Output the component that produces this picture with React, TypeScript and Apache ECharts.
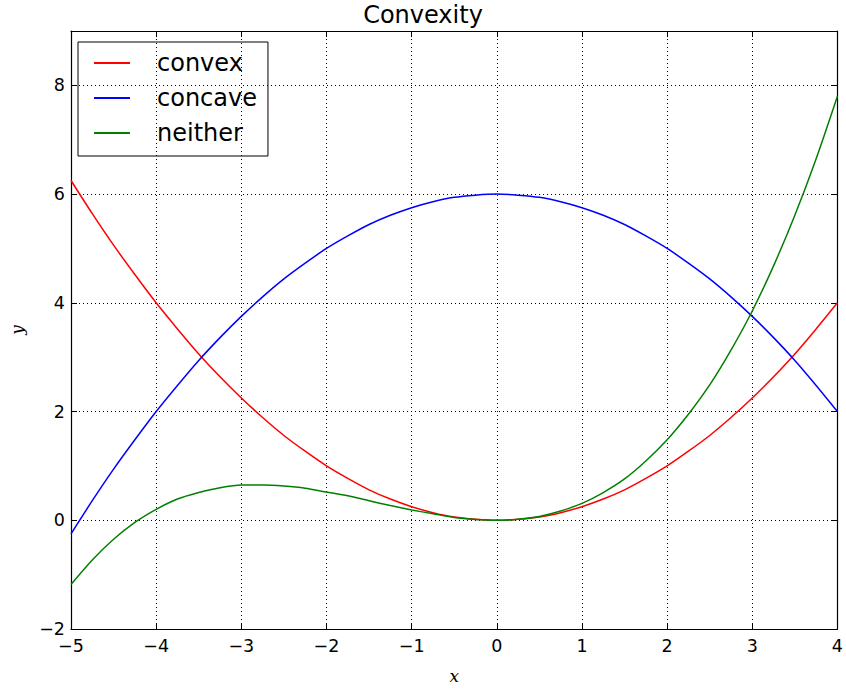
import React, { useEffect, useRef } from "react";
import * as echarts from "echarts";

const xs = [-5, -4.75, -4.5, -4.25, -4, -3.75, -3.5, -3.25, -3, -2.75, -2.5, -2.25, -2, -1.75, -1.5, -1.25, -1, -0.75, -0.5, -0.25, 0, 0.25, 0.5, 0.75, 1, 1.25, 1.5, 1.75, 2, 2.25, 2.5, 2.75, 3, 3.25, 3.5, 3.75, 4];
const convex = [6.25, 5.64, 5.06, 4.52, 4.0, 3.52, 3.06, 2.64, 2.25, 1.89, 1.56, 1.27, 1.0, 0.77, 0.56, 0.39, 0.25, 0.14, 0.06, 0.02, 0, 0.02, 0.06, 0.14, 0.25, 0.39, 0.56, 0.77, 1.0, 1.27, 1.56, 1.89, 2.25, 2.64, 3.06, 3.52, 4.0];
const concave = [-0.25, 0.36, 0.94, 1.48, 2.0, 2.48, 2.94, 3.36, 3.75, 4.11, 4.44, 4.73, 5.0, 5.23, 5.44, 5.61, 5.75, 5.86, 5.94, 5.98, 6.0, 5.98, 5.94, 5.86, 5.75, 5.61, 5.44, 5.23, 5.0, 4.73, 4.44, 4.11, 3.75, 3.36, 2.94, 2.48, 2.0];
const neither = [-1.18, -0.73, -0.35, -0.04, 0.2, 0.39, 0.51, 0.6, 0.65, 0.65, 0.63, 0.59, 0.52, 0.45, 0.36, 0.27, 0.19, 0.12, 0.05, 0.015, 0, 0.017, 0.07, 0.17, 0.31, 0.51, 0.76, 1.09, 1.48, 1.95, 2.49, 3.13, 3.85, 4.68, 5.61, 6.65, 7.8];
const seriesNames = ["convex", "concave", "neither"];
const seriesColors = ["#ff0000", "#0000ff", "#008000"];
const seriesValues = [convex, concave, neither];

const FONT = "DejaVu Sans";

export default function App() {
  const ref = useRef<HTMLDivElement>(null);
  useEffect(() => {
    if (!ref.current) return;
    const chart = echarts.init(ref.current, undefined, { renderer: "svg" });
    const minusFmt = (v: number) => (v < 0 ? "\u2212" + Math.abs(v) : String(v));
    const tickCommon = { show: true, inside: true, length: 6, lineStyle: { color: "#000", width: 1 } };
    const axisLineCommon = { show: true, onZero: false, lineStyle: { color: "#000", width: 1.2 } };
    chart.setOption({
      animation: false,
      backgroundColor: "#fff",
      title: {
        text: "Convexity",
        left: "center",
        top: -2,
        textStyle: { fontFamily: FONT, fontSize: 24, fontWeight: "normal", color: "#000" },
      },
      legend: {
        orient: "vertical",
        left: 78,
        top: 42,
        data: seriesNames,
        icon: "rect",
        itemWidth: 36,
        itemHeight: 2,
        itemGap: 11,
        padding: [9, 11, 11, 16],
        borderColor: "#000",
        borderWidth: 1,
        borderRadius: 0,
        textStyle: { fontFamily: FONT, fontSize: 24, color: "#000", padding: [0, 0, 0, 22] },
      },
      grid: { left: 67, right: 7, top: 31, bottom: 56, containLabel: false },
      xAxis: [
        {
          type: "value",
          min: -5,
          max: 4,
          interval: 1,
          position: "bottom",
          name: "x",
          nameLocation: "middle",
          nameGap: 38,
          nameTextStyle: { fontFamily: "DejaVu Serif", fontStyle: "italic", fontSize: 17, color: "#000" },
          axisLine: axisLineCommon,
          axisTick: tickCommon,
          axisLabel: { fontFamily: FONT, fontSize: 17.5, color: "#000", margin: 8, formatter: minusFmt },
          splitLine: { show: true, lineStyle: { color: "#000", width: 1, type: [1, 3] } },
        },
        {
          type: "value",
          min: -5,
          max: 4,
          interval: 1,
          position: "top",
          axisLine: axisLineCommon,
          axisTick: tickCommon,
          axisLabel: { show: false },
          splitLine: { show: false },
        },
      ],
      yAxis: [
        {
          type: "value",
          min: -2,
          max: 9,
          interval: 2,
          position: "left",
          name: "y",
          nameLocation: "middle",
          nameGap: 46,
          nameTextStyle: { fontFamily: "DejaVu Serif", fontStyle: "italic", fontSize: 17, color: "#000" },
          axisLine: axisLineCommon,
          axisTick: tickCommon,
          axisLabel: { fontFamily: FONT, fontSize: 17.5, color: "#000", margin: 6, formatter: minusFmt, showMaxLabel: false },
          splitLine: { show: true, lineStyle: { color: "#000", width: 1, type: [1, 3] } },
        },
        {
          type: "value",
          min: -2,
          max: 9,
          interval: 2,
          position: "right",
          axisLine: axisLineCommon,
          axisTick: tickCommon,
          axisLabel: { show: false },
          splitLine: { show: false },
        },
      ],
      series: seriesNames.map((name, i) => ({
        name,
        type: "line",
        xAxisIndex: 0,
        yAxisIndex: 0,
        data: xs.map((x, j) => [x, seriesValues[i][j]]),
        showSymbol: false,
        smooth: 0.25,
        color: seriesColors[i],
        lineStyle: { color: seriesColors[i], width: 1.5 },
        z: 3,
      })),
    });
    return () => chart.dispose();
  }, []);
  return <div ref={ref} style={{ position: "absolute", left: 0, top: 0, width: 846, height: 689 }} />;
}
